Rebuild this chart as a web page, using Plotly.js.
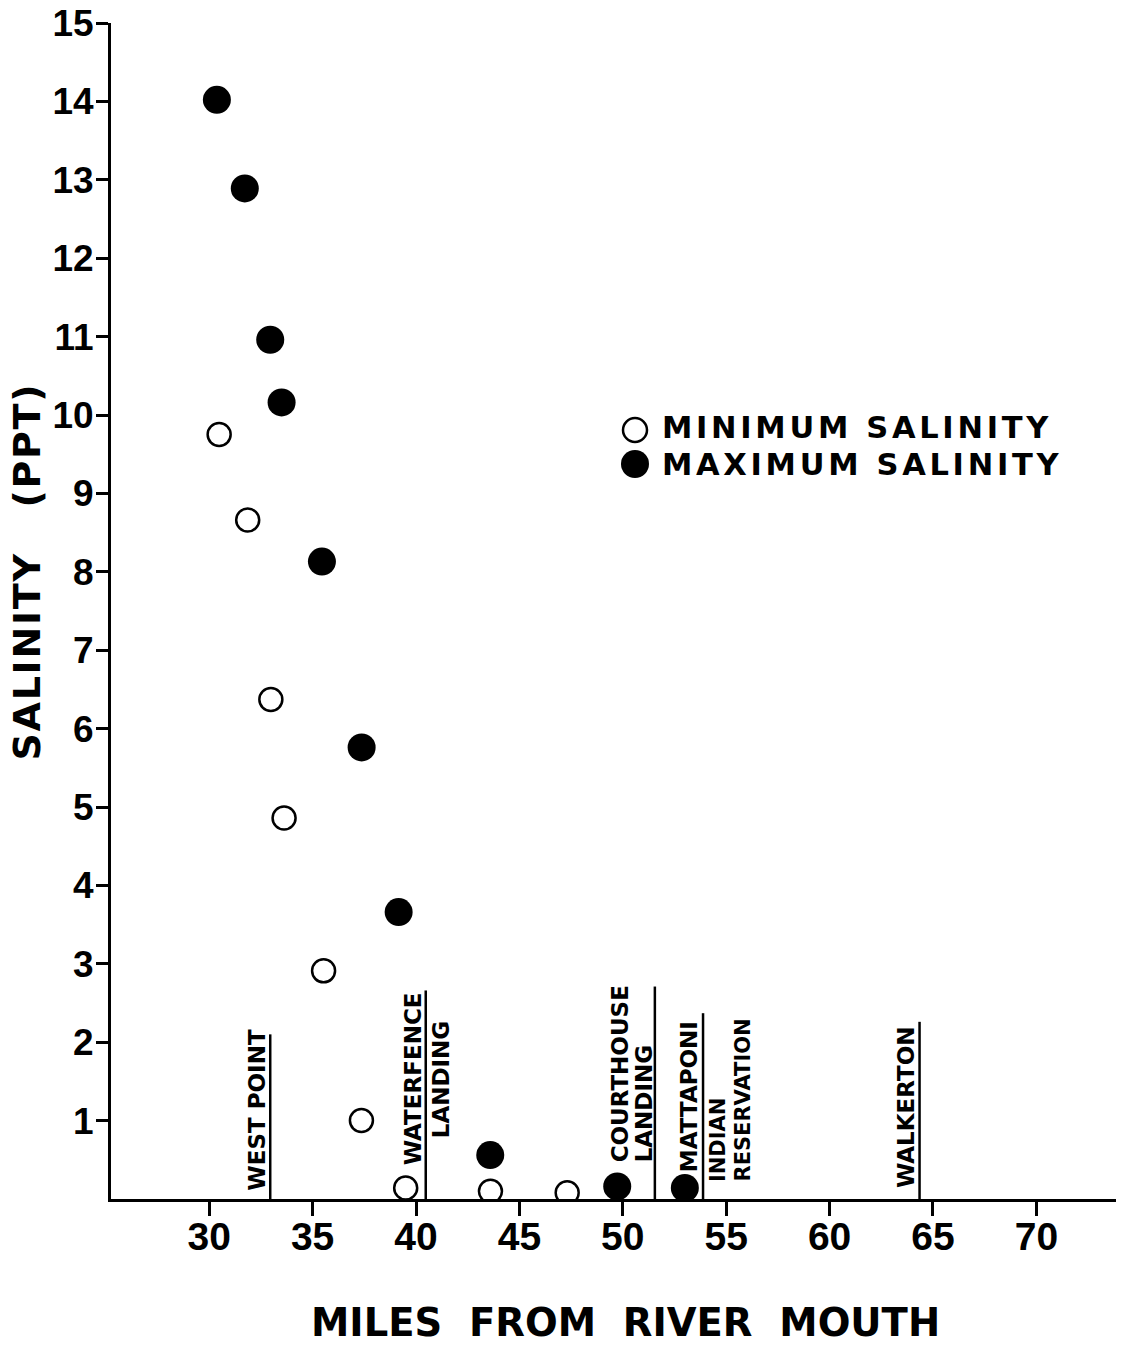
<!DOCTYPE html>
<html><head><meta charset="utf-8">
<script src="https://cdn.plot.ly/plotly-3.0.1.min.js"></script>
<style>html,body{margin:0;padding:0;background:#fff}</style>
</head><body>
<div id="chart" style="width:1121px;height:1347px"></div>
<script>
// ---- data ----
const minMiles    = [30.48, 31.86, 32.98, 33.62, 35.53, 37.36, 39.5, 43.6, 47.31];
const minSalinity = [9.75, 8.66, 6.37, 4.86, 2.91, 1.0, 0.14, 0.10, 0.08];
const maxMiles    = [30.37, 31.72, 32.95, 33.5, 35.45, 37.37, 39.16, 43.59, 49.73, 53.0];
const maxSalinity = [14.02, 12.89, 10.96, 10.16, 8.13, 5.76, 3.66, 0.56, 0.16, 0.14];

const xTickVals = [30, 35, 40, 45, 50, 55, 60, 65, 70];
const yTickVals = [1, 2, 3, 4, 5, 6, 7, 8, 9, 10, 11, 12, 13, 14, 15];

const siteMiles = [32.95, 40.47, 51.55, 53.88, 64.35];
const siteLineTops = [2.10, 2.66, 2.71, 2.37, 2.26];
const siteLabelLines = [
  ["WEST POINT"],
  ["WATERFENCE", "LANDING"],
  ["COURTHOUSE", "LANDING"],
  ["MATTAPONI", "INDIAN", "RESERVATION"],
  ["WALKERTON"]
];
const legendLabels = ["MINIMUM SALINITY", "MAXIMUM SALINITY"];
const xTitle = "MILES\u00a0\u00a0FROM\u00a0\u00a0RIVER\u00a0\u00a0MOUTH";
const yTitle = "SALINITY\u00a0\u00a0\u00a0(PPT)";

// ---- placement / style (pixel offsets of label lines: [xshift, yshift, fontsize]) ----
const labelPlacement = [
  [[-13.6, 7, 23]],
  [[-13, 33, 23], [15, 60, 23]],
  [[-35, 36, 23], [-11, 36, 23]],
  [[-14.4, 26, 23], [15, 16, 21], [39, 16, 21]],
  [[-13.5, 10, 23]]
];

const labelFont = {family: "DejaVu Sans, Verdana, sans-serif", weight: "bold", color: "#000"};
const xTickFont = {family: "Liberation Sans, Arial, sans-serif", weight: "bold", size: 39, color: "#000"};
const yTickFont = {family: "Liberation Sans, Arial, sans-serif", weight: "bold", size: 37, color: "#000"};
const spaced = (t, px) => '<span style="letter-spacing:' + px + 'px">' + t + '</span>';

const traces = [
  {x: minMiles, y: minSalinity, mode: "markers", type: "scatter", name: legendLabels[0],
   marker: {symbol: "circle-open", size: 23, color: "#000", line: {width: 2.5, color: "#000"}}, showlegend: false},
  {x: maxMiles, y: maxSalinity, mode: "markers", type: "scatter", name: legendLabels[1],
   marker: {symbol: "circle", size: 28, color: "#000"}, showlegend: false}
];

const shapes = [];
const annotations = [];
siteMiles.forEach((m, i) => {
  shapes.push({type: "line", xref: "x", yref: "y", x0: m, x1: m, y0: 0, y1: siteLineTops[i],
               line: {color: "#000", width: 2.5}});
  siteLabelLines[i].forEach((txt, j) => {
    const p = labelPlacement[i][j];
    annotations.push({xref: "x", yref: "y", x: m, y: 0, text: txt, showarrow: false,
      textangle: -90, xanchor: "center", yanchor: "bottom", xshift: p[0], yshift: p[1],
      borderpad: 0, font: Object.assign({size: p[2]}, labelFont)});
  });
});

// legend (manual, to match the large symbols)
const plotL = 111, plotW = 1005, plotB = 1199, plotH = 1176;
const legendY = [(plotB - 428) / plotH, (plotB - 464) / plotH];
const legendSymX = (635 - plotL) / plotW;
shapes.push({type: "circle", xref: "paper", yref: "paper", xsizemode: "pixel", ysizemode: "pixel",
  xanchor: legendSymX, yanchor: (plotB - 430) / plotH, x0: -12, x1: 12, y0: -12, y1: 12,
  line: {color: "#000", width: 2.5}, fillcolor: "rgba(0,0,0,0)"});
shapes.push({type: "circle", xref: "paper", yref: "paper", xsizemode: "pixel", ysizemode: "pixel",
  xanchor: legendSymX, yanchor: (plotB - 464) / plotH, x0: -14, x1: 14, y0: -14, y1: 14,
  line: {color: "#000", width: 0}, fillcolor: "#000"});
legendLabels.forEach((t, i) => {
  annotations.push({xref: "paper", yref: "paper", x: (661 - plotL) / plotW, y: legendY[i],
    xanchor: "left", yanchor: "middle", text: spaced(t, 3.7), showarrow: false, borderpad: 0,
    font: Object.assign({size: 30.5}, labelFont)});
});

// axis titles
annotations.push({xref: "paper", yref: "paper", x: (625 - plotL) / plotW, y: (plotB - 1322) / plotH,
  xanchor: "center", yanchor: "middle", text: xTitle, showarrow: false, borderpad: 0,
  font: Object.assign({size: 38.5}, labelFont)});
annotations.push({xref: "paper", yref: "paper", x: (26 - plotL) / plotW, y: (plotB - 571.5) / plotH,
  xanchor: "center", yanchor: "middle", text: spaced(yTitle, 1.7), showarrow: false, textangle: -90, borderpad: 0,
  font: Object.assign({size: 38}, labelFont)});

const layout = {
  width: 1121, height: 1347,
  margin: {l: plotL, r: 5, t: 23, b: 148, pad: 0},
  paper_bgcolor: "#fff", plot_bgcolor: "#fff",
  showlegend: false,
  xaxis: {range: [25.25, 73.85], tickvals: xTickVals, ticktext: xTickVals.map(String),
    showline: true, linecolor: "#000", linewidth: 3, ticks: "outside", ticklen: 14, tickwidth: 3,
    tickcolor: "#000", showgrid: false, zeroline: false, tickfont: xTickFont, ticklabelstandoff: -13},
  yaxis: {range: [0, 15], tickvals: yTickVals, ticktext: yTickVals.map(String),
    showline: true, linecolor: "#000", linewidth: 3, ticks: "outside", ticklen: 12, tickwidth: 3,
    tickcolor: "#000", showgrid: false, zeroline: false, tickfont: yTickFont, ticklabelstandoff: -5},
  shapes: shapes,
  annotations: annotations
};

Plotly.newPlot("chart", traces, layout, {staticPlot: true, displayModeBar: false});
</script>
</body></html>
